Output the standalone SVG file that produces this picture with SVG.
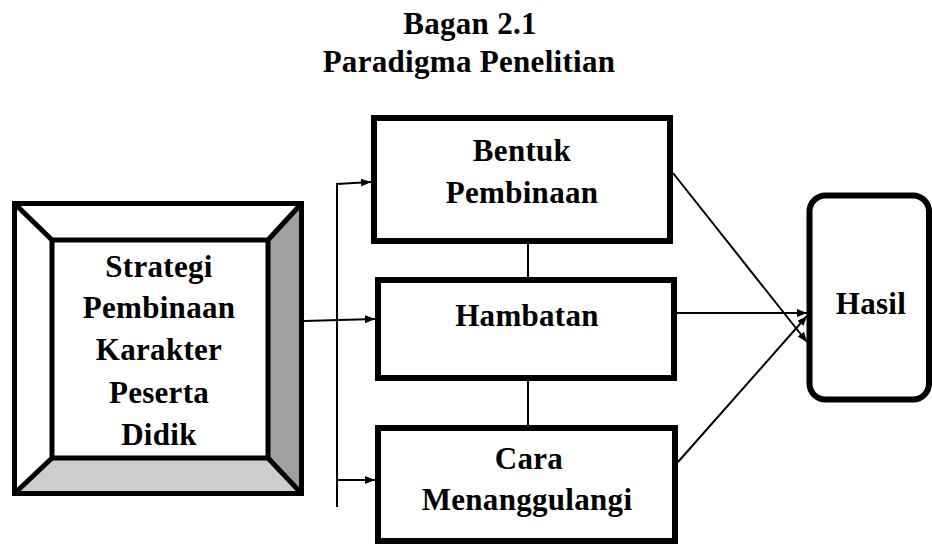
<svg xmlns="http://www.w3.org/2000/svg" width="932" height="544" viewBox="0 0 932 544">
<style>
  text { font-family: "Liberation Serif", "Times New Roman", serif; font-weight: bold; fill: #000; text-anchor: middle; font-size: 31px; letter-spacing: 0.3px; }
  .box { fill: #fff; stroke: #000; stroke-width: 6; }
  .bl { stroke: #000; stroke-width: 5; fill: none; }
  .c { stroke: #000; stroke-width: 2; fill: none; }
</style>
<defs>
  <marker id="ah" viewBox="0 0 10 8" refX="10" refY="4" markerWidth="10" markerHeight="8" markerUnits="userSpaceOnUse" orient="auto">
    <path d="M0,0 L10,4 L0,8 z" fill="#000"/>
  </marker>
</defs>
<rect width="932" height="544" fill="#fff"/>
<g id="title">
  <text x="470" y="34">Bagan 2.1</text>
  <text x="469" y="72">Paradigma Penelitian</text>
</g>
<g id="strategi">
  <rect x="14.5" y="203.5" width="287" height="290" fill="#fff"/>
  <polygon fill="#a0a0a0" points="301.5,203.5 301.5,493.5 268,458 268,240"/>
  <polygon fill="#cdcdcd" points="14.5,493.5 301.5,493.5 268,458 52,458"/>
  <rect class="bl" x="14.5" y="203.5" width="287" height="290"/>
  <rect class="bl" x="52" y="240" width="216" height="218" fill="#fff"/>
  <path class="bl" d="M14.5,203.5 L52,240 M301.5,203.5 L268,240 M301.5,493.5 L268,458 M14.5,493.5 L52,458"/>
  <text x="159" y="277">Strategi</text>
  <text x="159" y="318">Pembinaan</text>
  <text x="159" y="360">Karakter</text>
  <text x="159" y="403">Peserta</text>
  <text x="159" y="445">Didik</text>
</g>
<g id="bentuk">
  <rect class="box" x="374" y="118" width="296" height="123"/>
  <text x="522" y="161">Bentuk</text>
  <text x="522" y="203">Pembinaan</text>
</g>
<g id="hambatan">
  <rect class="box" x="378" y="280" width="296" height="98"/>
  <text x="527" y="326">Hambatan</text>
</g>
<g id="cara">
  <rect class="box" x="378" y="428" width="297" height="113"/>
  <text x="529" y="469">Cara</text>
  <text x="527" y="510">Menanggulangi</text>
</g>
<g id="hasil">
  <rect class="box" x="809.5" y="195.5" width="119.5" height="204" rx="16" ry="16" stroke-width="5"/>
  <text x="871" y="314">Hasil</text>
</g>
<g id="connectors">
  <line class="c" x1="337" y1="183" x2="337" y2="507"/>
  <line class="c" x1="337" y1="184" x2="371" y2="182" marker-end="url(#ah)"/>
  <line class="c" x1="304" y1="321" x2="375" y2="319" marker-end="url(#ah)"/>
  <line class="c" x1="337" y1="480" x2="375" y2="480" marker-end="url(#ah)"/>
  <line class="c" x1="528" y1="244" x2="528" y2="277"/>
  <line class="c" x1="528" y1="381" x2="528" y2="425"/>
  <line class="c" x1="673" y1="173" x2="807" y2="342" marker-end="url(#ah)"/>
  <line class="c" x1="677" y1="313" x2="807" y2="313" marker-end="url(#ah)"/>
  <line class="c" x1="678" y1="462" x2="807" y2="316" marker-end="url(#ah)"/>
</g>
</svg>
